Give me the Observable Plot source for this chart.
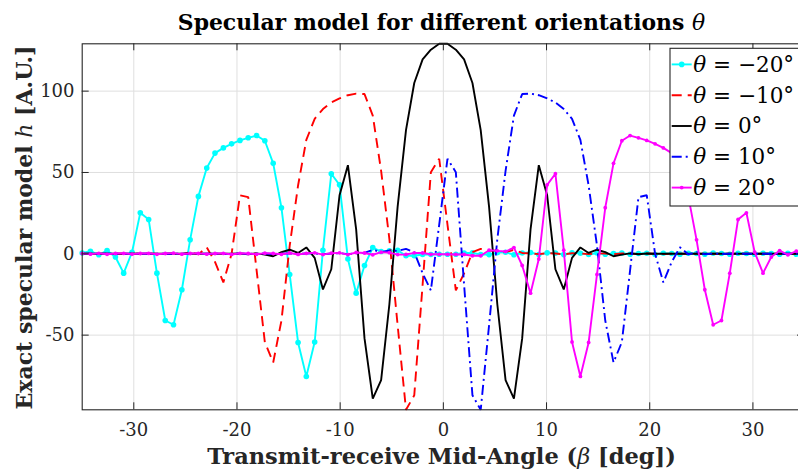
<!DOCTYPE html>
<html><head><meta charset="utf-8">
<script src="https://cdn.jsdelivr.net/npm/d3@7"></script>
<script src="https://cdn.jsdelivr.net/npm/@observablehq/plot@0.6"></script>
<style>
html,body{margin:0;padding:0;background:#fff;overflow:hidden;}
#chart{width:798px;height:470px;overflow:hidden;position:relative;}
#chart svg{max-width:none !important;}
</style></head><body><div id="chart"></div>
<script>
// Sample grid (transmit-receive mid-angle, degrees)
const beta = [-35.00,-34.20,-33.39,-32.59,-31.78,-30.98,-30.17,-29.37,-28.56,-27.76,-26.95,-26.15,-25.34,-24.54,-23.74,-22.93,-22.13,-21.32,-20.52,-19.71,-18.91,-18.10,-17.30,-16.49,-15.69,-14.89,-14.08,-13.28,-12.47,-11.67,-10.86,-10.06,-9.25,-8.45,-7.64,-6.84,-6.03,-5.23,-4.43,-3.62,-2.82,-2.01,-1.21,-0.40,
  0.40,1.21,2.01,2.82,3.62,4.43,5.23,6.03,6.84,7.64,8.45,9.25,10.06,10.86,11.67,12.47,13.28,14.08,14.89,15.69,16.49,17.30,18.10,18.91,19.71,20.52,21.32,22.13,22.93,23.74,24.54,25.34,26.15,26.95,27.76,28.56,29.37,30.17,30.98,31.78,32.59,33.39,34.20,35.00];

// theta = -20 deg
const hNeg20 = [0.5,1.6,-0.6,2.0,-2.0,-11.9,1.0,25.2,21.1,-11.9,-41.0,-43.6,-22.1,8.6,35.3,52.7,61.9,65.1,67.6,69.7,71.3,72.7,69.5,55.6,28.3,-12.7,-54.5,-75.4,-54.2,2.2,49.2,42.4,-3.2,-24.2,-7.2,3.8,1.4,1.8,2.2,-1.2,-1.2,-0.4,-0.4,-0.3,
  -0.3,-0.3,0.5,0.6,-0.4,-0.5,0.7,1.0,-0.6,0.5,0.8,-0.5,0.6,0.4,-0.5,0.6,0.3,-0.4,0.5,-0.3,0.2,0.4,-0.3,0.2,0.3,-0.4,0.3,0.2,-0.2,0.3,0.2,-0.2,0.4,0.2,-0.3,0.3,0.2,-0.2,0.3,0.2,-0.3,0.3,-0.2,0.2];

// theta = -10 deg
const hNeg10 = [0,0,0,0,0,0,0,0,0,0.1,-0.1,
  0.2,-0.3,1.0,-0.4,4.0,-5.0,-17.6,0.0,36.0,34.8,
  -10.0,-54.3,-66.8,-41.0,5.0,42.0,70.0,83.0,89.0,93.0,
  95.5,97.5,98.5,98.2,85.0,51.0,9.0,-44.0,-95.9,-87.0,
  -19.0,50.2,58.4,18.0,-22.5,-12.0,1.0,3.0,1.8,2.0,1.0,2.5,0.5,
  0.3,-0.2,0.4,0.2,-0.3,0.3,0.2,-0.2,0.3,0.1,-0.2,0.2,0.1,-0.1,0.2,0,-0.1,0.1,0,0,0.1,0,0,0,0,0,0,0,0,0,0,0,0,0];

// theta = 0 deg
const h0 = [0,0,0,0,0,0,0,0,0,0,0,0,0,0,0,0,0,0,0,0.2,-0.3,0.3,-0.5,-1.5,1.0,2.5,0.5,3.9,-2.5,-21.9,-9.5,36.0,54.5,15.0,-52.0,-89.0,-77.7,-31.0,29.0,76.0,105.0,119.5,125.5,129.1,
  129.1,125.5,119.5,105.0,76.0,29.0,-31.0,-77.7,-89.0,-52.0,15.0,54.5,36.0,-9.5,-21.9,-2.5,3.9,0.5,2.5,1.0,-1.5,-0.5,0.3,-0.3,0.2,0,0,0,0,0,0,0,0,0,0,0,0,0,0,0,0,0,0,0];

// theta = 10 deg
const hPos10 = [0,0,0,0,0,0,0,0,0,0,0,0,0,0.1,0,0,0.1,-0.1,0,0.2,-0.1,0.1,0.2,-0.2,0.1,0.3,-0.2,0.2,0.3,-0.3,0.2,0.4,-0.2,0.3,
  0.5,2.5,1.0,2.0,1.8,3.0,1.0,-12.0,-22.5,18.0,58.4,50.2,-19.0,
  -87.0,-95.9,-44.0,9.0,51.0,85.0,98.2,98.5,97.5,95.5,
  93.0,89.0,83.0,70.0,42.0,5.0,-41.0,-66.8,-54.3,-10.0,
  34.8,36.0,0.0,-17.6,-5.0,4.0,-0.4,1.0,-0.3,0.2,
  -0.1,0.1,0,0,0,0,0,0,0,0,0];

// theta = 20 deg
const hPos20 = [0.2,-0.2,0.3,-0.3,0.2,0.3,-0.2,0.2,0.3,-0.3,0.2,0.4,-0.2,0.2,0.3,-0.2,0.2,0.3,-0.4,0.3,0.2,-0.3,0.4,0.2,-0.3,0.5,-0.4,0.3,0.6,-0.5,0.4,0.6,-0.5,0.8,0.5,-0.6,1.0,0.7,-0.5,-0.4,0.6,0.5,-0.3,-0.3,
  -0.3,-0.4,-0.4,-1.2,-1.2,2.2,1.8,1.4,3.8,-7.2,-24.2,-3.2,42.4,49.2,2.2,-54.2,-75.4,-54.5,-12.7,28.3,55.6,69.5,72.7,71.3,69.7,67.6,65.1,61.9,52.7,35.3,8.6,-22.1,-43.6,-41.0,-11.9,21.1,25.2,1.0,-11.9,-2.0,2.0,-0.6,1.6,0.5];

const thetaLabels = ["−20°", "−10°", "0°", "10°", "20°"];
const xTicks = [-30, -20, -10, 0, 10, 20, 30];
const yTicks = [-50, 0, 50, 100];
const xDomain = [-35, 35];
const yDomain = [-95.9, 129.1];

const rows = v => beta.map((b, i) => ({beta: b, h: v[i]}));
const dNeg20 = rows(hNeg20), dNeg10 = rows(hNeg10), d0 = rows(h0), dPos10 = rows(hPos10), dPos20 = rows(hPos20);

const styles = [
  {color: "#00ffff", dash: null, r: 2.8},
  {color: "#ff0000", dash: "10,6", r: 0},
  {color: "#000000", dash: null, r: 0},
  {color: "#0000ff", dash: "10,4,2,4", r: 0},
  {color: "#ff00ff", dash: null, r: 1.9}
];

const W = 804, H = 470, mL = 81.7, mR = 0, mT = 43.3, mB = 60.7;
const innerW = W - mL - mR, innerH = H - mT - mB;
const axisColor = "#262626";
const lw = 1.9;

const lineMark = (d, s) => Plot.line(d, {x: "beta", y: "h", stroke: s.color, strokeWidth: lw, strokeDasharray: s.dash, strokeLinejoin: "miter", strokeLinecap: "butt"});

const plot = Plot.plot({
  width: W, height: H,
  marginLeft: mL, marginRight: mR, marginTop: mT, marginBottom: mB,
  style: {background: "#fff", fontFamily: "DejaVu Serif", color: axisColor, overflow: "visible", maxWidth: "none"},
  x: {domain: xDomain},
  y: {domain: yDomain},
  marks: [
    Plot.gridX(xTicks, {stroke: "#dfdfdf", strokeOpacity: 1, strokeWidth: 1}),
    Plot.gridY(yTicks, {stroke: "#dfdfdf", strokeOpacity: 1, strokeWidth: 1}),
    lineMark(dNeg20, styles[0]),
    Plot.dot(dNeg20, {x: "beta", y: "h", r: styles[0].r, fill: styles[0].color, stroke: null}),
    lineMark(dNeg10, styles[1]),
    lineMark(d0, styles[2]),
    lineMark(dPos10, styles[3]),
    lineMark(dPos20, styles[4]),
    Plot.dot(dPos20, {x: "beta", y: "h", r: styles[4].r, fill: styles[4].color, stroke: null}),
    Plot.frame({stroke: axisColor, strokeWidth: 1.1}),
    Plot.tickX(xTicks, {x: d => d, insetTop: innerH - 7, stroke: axisColor}),
    Plot.tickX(xTicks, {x: d => d, insetBottom: innerH - 7, stroke: axisColor}),
    Plot.tickY(yTicks, {y: d => d, insetRight: innerW - 7, stroke: axisColor}),
    Plot.tickY(yTicks, {y: d => d, insetLeft: innerW - 7, stroke: axisColor}),
    Plot.axisX(xTicks, {tickSize: 0, tickPadding: 13, fontSize: 18, label: null, tickFormat: d => String(d)}),
    Plot.axisY(yTicks, {tickSize: 0, tickPadding: 7.7, fontSize: 18, label: null, tickFormat: d => String(d)})
  ]
});

const svg = d3.select(plot);
const serif = "DejaVu Serif";

// title
const t = svg.append("text").attr("x", 441.5).attr("y", 29.5).attr("text-anchor", "middle")
  .attr("font-family", serif).attr("font-size", 21.9).attr("fill", "#000");
t.append("tspan").attr("font-weight", "bold").text("Specular model for different orientations ");
t.append("tspan").attr("font-style", "italic").text("θ");

// x label
const xl = svg.append("text").attr("x", 441.5).attr("y", 464).attr("text-anchor", "middle")
  .attr("font-family", serif).attr("font-size", 22.5).attr("fill", axisColor);
xl.append("tspan").attr("font-weight", "bold").text("Transmit-receive Mid-Angle (");
xl.append("tspan").attr("font-style", "italic").text("β");
xl.append("tspan").attr("font-weight", "bold").text(" [deg])");

// y label
const yl = svg.append("text").attr("transform", "translate(31.7,227.5) rotate(-90)").attr("text-anchor", "middle")
  .attr("font-family", serif).attr("font-size", 22).attr("fill", axisColor);
yl.append("tspan").attr("font-weight", "bold").text("Exact specular model ");
yl.append("tspan").attr("font-style", "italic").text("h");
yl.append("tspan").attr("font-weight", "bold").text(" [A.U.]");

// legend
const lg = svg.append("g");
lg.append("rect").attr("x", 670).attr("y", 48.3).attr("width", 140).attr("height", 157.7)
  .attr("fill", "#fff").attr("stroke", axisColor).attr("stroke-width", 1.1);
thetaLabels.forEach((lab, i) => {
  const s = styles[i];
  const base = 71.7 + i * 30.8;
  const ly = base - 7.3;
  lg.append("line").attr("x1", 671.7).attr("x2", 691.7).attr("y1", ly).attr("y2", ly)
    .attr("stroke", s.color).attr("stroke-width", lw).attr("stroke-dasharray", s.dash);
  if (s.r) lg.append("circle").attr("cx", 681.7).attr("cy", ly).attr("r", s.r).attr("fill", s.color);
  const tx = lg.append("text").attr("x", 693.3).attr("y", base).attr("text-anchor", "start")
    .attr("font-family", serif).attr("font-size", 21.5).attr("fill", "#000");
  tx.append("tspan").attr("font-style", "italic").text("θ");
  tx.append("tspan").text(" = " + lab);
});

document.getElementById("chart").appendChild(plot);
</script>
</body></html>
